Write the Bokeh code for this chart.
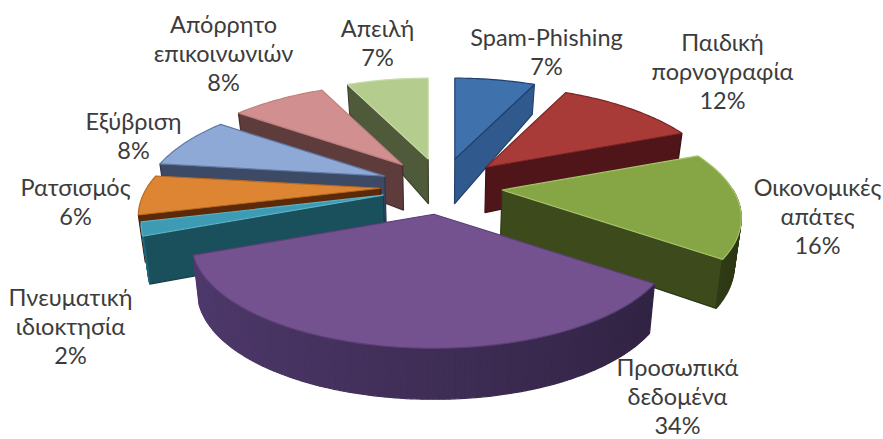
import numpy as np
from bokeh.plotting import figure
from bokeh.embed import file_html
from bokeh.resources import INLINE
from bokeh.core.properties import value

categories = [["Spam-Phishing"], ["Παιδική", "πορνογραφία"], ["Οικονομικές", "απάτες"],
              ["Προσωπικά", "δεδομένα"], ["Πνευματική", "ιδιοκτησία"], ["Ρατσισμός"],
              ["Εξύβριση"], ["Απόρρητο", "επικοινωνιών"], ["Απειλή"]]
values = [7, 12, 16, 34, 2, 6, 8, 8, 7]
top_colors = ["#3f72ad", "#a83a38", "#86a646", "#73528f", "#3d9bb3", "#dd8532", "#8ea9d6", "#d18f8f", "#b4cc8e"]
edge_colors = ["#1f3f6e", "#7a2426", "#a5c46a", "#5a3f74", "#5ab0c4", "#b86a20", "#5f7aa5", "#c08080", "#c8dca8"]
wall_colors = ["#30598e", "#4f1519", "#3c4a1c", "#3e2d55", "#1a4f5c", "#5c2a08", "#3c4a66", "#5e3c3c", "#4f5a3a"]
# label centre x and the baseline y of its first line, in picture pixels
label_x = [546, 722, 817, 677, 70, 75, 133, 223, 377]
label_y = [36, 41, 186, 366, 296, 186, 120, 23, 27]
line_step = 29.0

W, H_PAGE = 883, 439
CX, CY = 441.0, 186.0      # pie centre
EX, EY = 61.0, 28.0        # explosion
RX_R, RX_L, RY = 231.0, 234.0, 101.0      # radii
KX, KY = 0.26, 0.2465      # perspective


def shade(col, f):
    rgb = [int(col[i:i + 2], 16) for i in (1, 3, 5)]
    return "#%02x%02x%02x" % tuple(int(min(255, c * f)) for c in rgb)


def top_pt(ax, ay, th):
    X, Y = np.sin(th), np.cos(th)
    rx = np.where(X < 0, RX_L, RX_R)
    return ax + rx * X / (1 + KX * Y), ay - RY * Y / (1 + KY * Y)


def base(x, y):
    d = np.interp(y, [80, 160, 260, 350], [29, 45, 49, 51])
    return CX + (x - CX) * 0.977, y + d


frac = np.cumsum([0] + values) / sum(values) * 2 * np.pi
order = sorted(range(len(values)), key=lambda i: -np.cos((frac[i] + frac[i + 1]) / 2))

xs, ys, fills, lines = [], [], [], []


def add(px, py, f, l):
    xs.append([float(v) for v in px]); ys.append([float(v) for v in py]); fills.append(f); lines.append(l)


for i in order:
    t0, t1 = frac[i], frac[i + 1]
    mid = (t0 + t1) / 2
    ax, ay = CX + EX * np.sin(mid), CY - EY * np.cos(mid)
    bax, bay = base(ax, ay)
    for t, vis in ((t0, np.sin(t0) < -1e-6), (t1, np.sin(t1) > 1e-6)):
        if vis:
            x, y = top_pt(ax, ay, t)
            bx, by = base(x, y)
            add([ax, x, bx, bax], [ay, y, by, bay], wall_colors[i], shade(wall_colors[i], 0.75))
    n = max(2, int((t1 - t0) / np.radians(1)))
    th = np.linspace(t0, t1, n + 1)
    for a, b in zip(th[:-1], th[1:]):
        m = (a + b) / 2
        if np.cos(m) < 0 and not (np.sin(m) < 0 and np.cos(m) > -0.25):
            xa, ya = top_pt(ax, ay, a); xb, yb = top_pt(ax, ay, b)
            bxa, bya = base(xa, ya); bxb, byb = base(xb, yb)
            c = shade(wall_colors[i], 1.02 - 0.28 * np.sin(m))
            add([xa, xb, bxb, bxa], [ya, yb, byb, bya], c, c)
    px, py = top_pt(ax, ay, th)
    add([ax, *px], [ay, *py], top_colors[i], edge_colors[i])

p = figure(width=W, height=H_PAGE, x_range=(0, W), y_range=(H_PAGE, 0),
           toolbar_location=None, output_backend="svg", min_border=0, outline_line_color=None)
p.axis.visible = False
p.grid.visible = False
p.patches(xs, ys, fill_color=fills, line_color=lines, line_width=1.2)

tx, ty, tt = [], [], []
for lines_, v, x, y in zip(categories, values, label_x, label_y):
    for j, s in enumerate(lines_ + [f"{v}%"]):
        tx.append(x); ty.append(y + j * line_step); tt.append(s)
p.text(tx, ty, text=tt, text_font=value("Lato"), text_font_size="23.5px",
       text_color="#3c3c3c", text_align="center", text_baseline="alphabetic")

open("out.html", "w").write(file_html(p, INLINE))
